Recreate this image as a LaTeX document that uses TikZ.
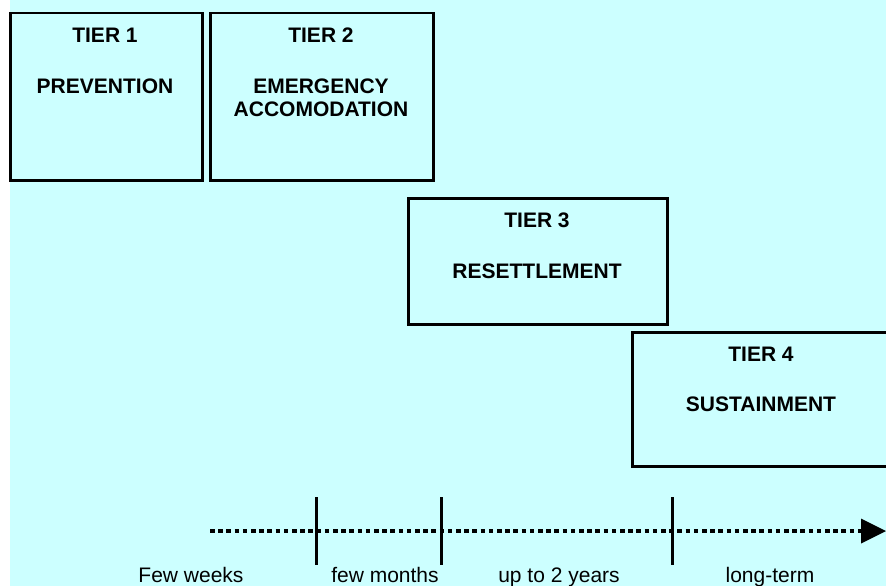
\documentclass[tikz,border=0pt]{standalone}
\usepackage{fontspec}
\setmainfont{Liberation Sans}
\usetikzlibrary{arrows.meta,calc}
\definecolor{bgcyan}{HTML}{CCFFFF}
\begin{document}
\begin{tikzpicture}[x=1pt,y=-1pt,
  tierbox/.style={draw=black,line width=2.5pt,inner sep=0pt,anchor=north west},
  tiertext/.style={font=\fontsize{21}{24}\selectfont\bfseries,anchor=base,inner sep=0pt},
  timetext/.style={font=\fontsize{21}{24}\selectfont,anchor=base,inner sep=0pt},
  tick/.style={line width=3pt},
  timeline/.style={line width=3.5pt,dash pattern=on 4.5pt off 3.7pt}]
\useasboundingbox (0,0) rectangle (886,586);
\clip (0,0) rectangle (886,586);
\fill[bgcyan] (10,0) rectangle (886,586);
% boxes
\node[tierbox,minimum width=192pt,minimum height=167pt] (b1) at (9,12) {};
\node[tierbox,minimum width=223pt,minimum height=167pt] (b2) at (209,12) {};
\node[tierbox,minimum width=259pt,minimum height=126pt] (b3) at (407,197) {};
\node[tierbox,minimum width=262pt,minimum height=134pt] (b4) at (631,331) {};
% texts
\node[tiertext] (t1a) at (105,43) {TIER 1};
\node[tiertext] (t1b) at (105,93) {PREVENTION};
\node[tiertext] (t2a) at (321,43) {TIER 2};
\node[tiertext] (t2b) at (321,93) {EMERGENCY};
\node[tiertext] (t2c) at (321,116) {ACCOMODATION};
\node[tiertext] (t3a) at (537,227) {TIER 3};
\node[tiertext] (t3b) at (537,278) {RESETTLEMENT};
\node[tiertext] (t4a) at (761,361) {TIER 4};
\node[tiertext] (t4b) at (761,411) {SUSTAINMENT};
% timeline
\coordinate (ls) at (210,531);
\coordinate (lm) at (861,531);
\coordinate (le) at (886,531);
\draw[timeline] (ls) -- (lm);
\fill[black] ($(lm)+(0,-12.5)$) -- (le) -- ($(lm)+(0,12.5)$) -- cycle;
\coordinate (k1t) at (316,497); \coordinate (k1b) at (316,565);
\coordinate (k2t) at (441,497); \coordinate (k2b) at (441,565);
\coordinate (k3t) at (672,497); \coordinate (k3b) at (672,565);
\draw[tick] (k1t) -- (k1b);
\draw[tick] (k2t) -- (k2b);
\draw[tick] (k3t) -- (k3b);
\node[timetext] (w1) at (191,582) {Few weeks};
\node[timetext] (w2) at (385,582) {few months};
\node[timetext] (w3) at (559,582) {up to 2 years};
\node[timetext] (w4) at (770,582) {long-term};
\end{tikzpicture}
\end{document}
